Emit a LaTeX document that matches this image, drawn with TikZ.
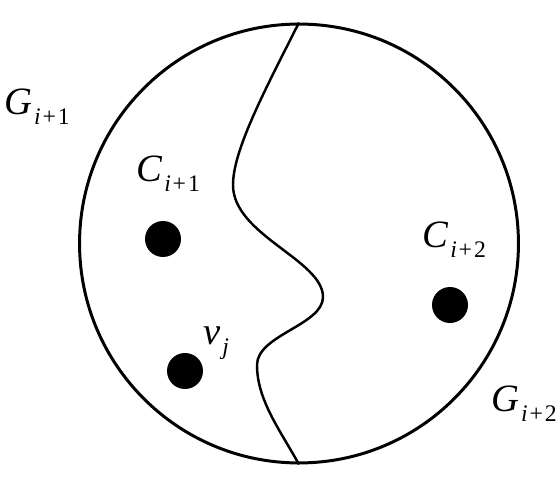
\documentclass[tikz,border=0pt]{standalone}
\usepackage{fontspec}
\setmainfont{Liberation Serif}
\usepackage{tikz}
\usetikzlibrary{positioning}
\tikzstyle{region}=[circle,draw=black,line width=1.7pt,minimum size=8.78cm,inner sep=0]
\tikzstyle{vert}=[circle,fill=black,minimum size=0.72cm,inner sep=0]
\tikzstyle{lbl}=[anchor=base west,inner sep=0,text=black,
                font=\fontsize{22}{22}\selectfont]
\newcommand{\sublab}[2]{\textit{#1}\hspace{1pt}\raisebox{-5.5pt}{\fontsize{13.5}{13.5}\selectfont #2}}
\newcommand{\plus}{\hspace{0.08em}+\hspace{0.08em}}

\begin{document}
\begin{tikzpicture}[x=0.02cm,y=-0.02cm]
  \path[use as bounding box] (0,0) rectangle (558,489);
  \node[region] (g) at (299,243.5) {};
  \node[vert] (c1) at (163,239) {};
  \node[vert] (vj) at (185,371) {};
  \node[vert] (c2) at (450,305) {};
  \node[lbl] (lg1) at (4,115) {\sublab{G}{\textit{i}\plus 1}};
  \node[lbl] (lc1) at (136,182) {\sublab{C}{\textit{i}\plus 1}};
  \node[lbl] (lc2) at (422,248) {\sublab{C}{\textit{i}\plus 2}};
  \node[lbl] (lv) at (203,345) {\sublab{v}{\textit{j}}};
  \node[lbl] (lg2) at (491,412) {\sublab{G}{\textit{i}\plus 2}};
  % the cut between the two parts
  \draw[line width=1.4pt] (g.north)
    .. controls (265,90) and (233,150) .. (233,185)
    .. controls (233,235) and (323,260) .. (323,297)
    .. controls (323,325) and (257,335) .. (257,365)
    .. controls (257,400) and (280,430) .. (g.south);
\end{tikzpicture}
\end{document}
